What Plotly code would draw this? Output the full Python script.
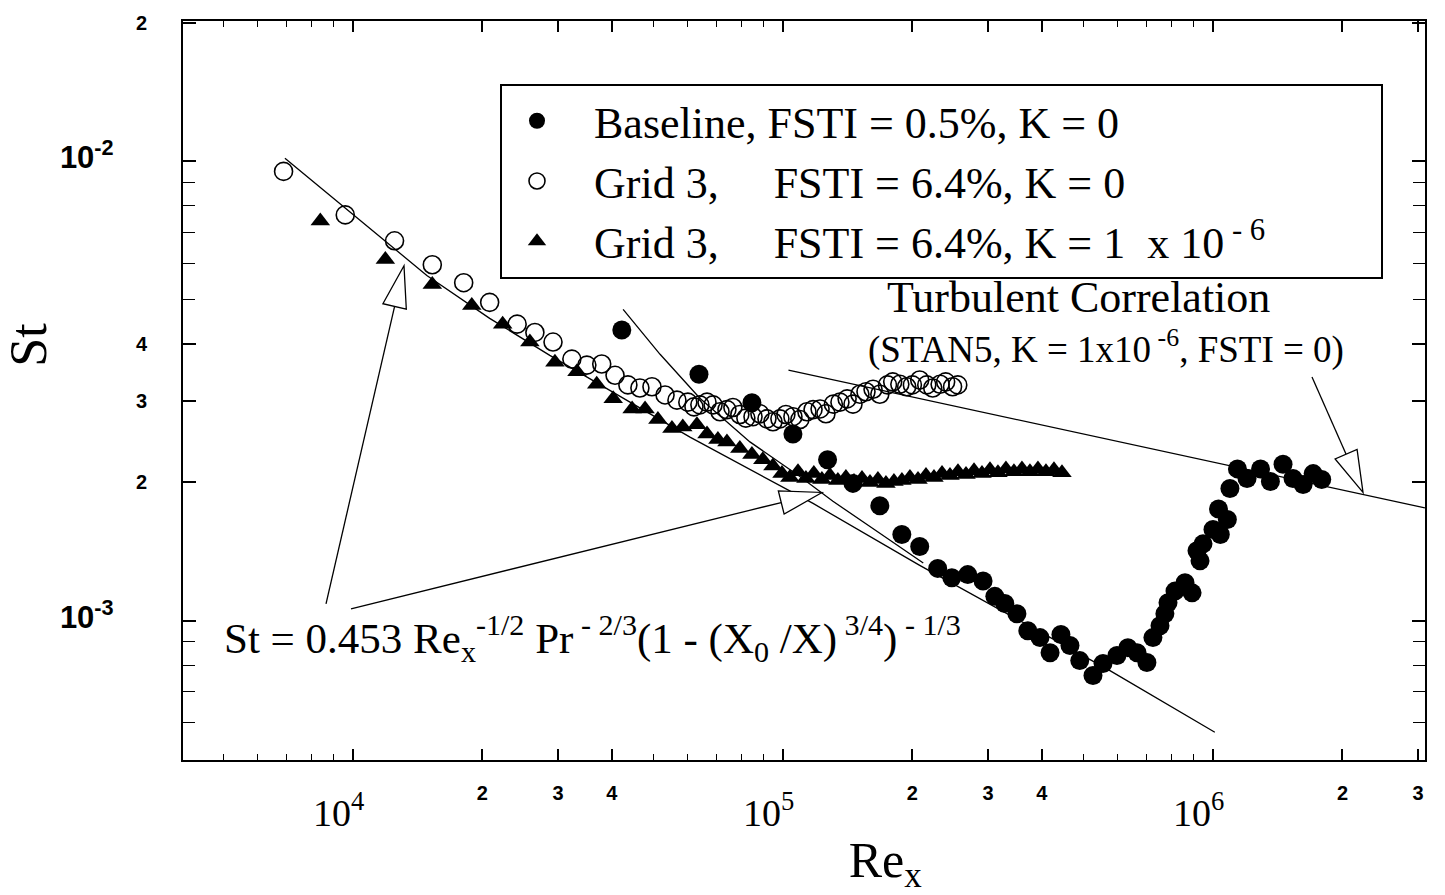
import math
import plotly.graph_objects as go

# ---------------- data ----------------
# Baseline, FSTI = 0.5%, K = 0  (filled circles)
base_re = [4.22e4, 6.38e4, 8.47e4, 1.055e5, 1.27e5, 1.455e5, 1.68e5, 1.89e5, 2.08e5, 2.29e5,
           2.47e5, 2.69e5, 2.92e5, 3.11e5, 3.28e5, 3.50e5, 3.71e5, 3.96e5, 4.18e5, 4.43e5,
           4.65e5, 4.90e5, 5.26e5, 5.55e5, 5.98e5, 6.34e5, 6.66e5, 7.02e5, 7.25e5, 7.53e5,
           7.73e5, 7.86e5, 8.16e5, 8.61e5, 8.94e5, 9.18e5, 9.33e5, 9.48e5, 1.0e6, 1.03e6,
           1.04e6, 1.08e6, 1.095e6, 1.14e6, 1.2e6, 1.29e6, 1.36e6, 1.455e6, 1.535e6, 1.62e6,
           1.71e6, 1.79e6]
base_st = [4.29e-3, 3.44e-3, 2.98e-3, 2.55e-3, 2.24e-3, 1.99e-3, 1.78e-3, 1.54e-3, 1.45e-3, 1.30e-3,
           1.24e-3, 1.26e-3, 1.22e-3, 1.13e-3, 1.09e-3, 1.036e-3, 9.51e-4, 9.19e-4, 8.52e-4, 9.33e-4,
           8.83e-4, 8.19e-4, 7.60e-4, 8.07e-4, 8.40e-4, 8.74e-4, 8.52e-4, 8.11e-4, 9.19e-4, 9.75e-4,
           1.036e-3, 1.094e-3, 1.16e-3, 1.21e-3, 1.15e-3, 1.42e-3, 1.35e-3, 1.47e-3, 1.58e-3, 1.75e-3,
           1.54e-3, 1.66e-3, 1.94e-3, 2.14e-3, 2.04e-3, 2.14e-3, 2.01e-3, 2.19e-3, 2.04e-3, 1.98e-3,
           2.09e-3, 2.03e-3]

# Grid 3, FSTI = 6.4%, K = 0  (open circles)
g0_re = [6.9e3, 9.6e3, 1.25e4, 1.53e4, 1.81e4, 2.08e4, 2.41e4, 2.65e4, 2.92e4, 3.23e4,
         3.50e4, 3.79e4, 4.07e4, 4.36e4, 4.65e4, 4.96e4, 5.32e4, 5.67e4, 6.01e4, 6.21e4,
         6.41e4, 6.66e4, 6.88e4, 7.14e4, 7.41e4, 7.65e4, 7.94e4, 8.20e4, 8.52e4, 8.84e4,
         9.18e4, 9.48e4, 9.84e4, 1.016e5, 1.055e5, 1.095e5, 1.137e5, 1.175e5, 1.22e5, 1.259e5,
         1.31e5, 1.357e5, 1.41e5, 1.455e5, 1.51e5, 1.56e5, 1.62e5, 1.68e5, 1.75e5, 1.80e5,
         1.87e5, 1.94e5, 2.0e5, 2.08e5, 2.16e5, 2.23e5, 2.32e5, 2.39e5, 2.48e5, 2.55e5]
g0_st = [9.5e-3, 7.64e-3, 6.71e-3, 5.95e-3, 5.44e-3, 4.93e-3, 4.42e-3, 4.24e-3, 4.04e-3, 3.71e-3,
         3.60e-3, 3.62e-3, 3.42e-3, 3.26e-3, 3.21e-3, 3.23e-3, 3.10e-3, 3.02e-3, 2.99e-3, 2.92e-3,
         2.95e-3, 2.99e-3, 2.95e-3, 2.85e-3, 2.88e-3, 2.91e-3, 2.81e-3, 2.76e-3, 2.78e-3, 2.82e-3,
         2.75e-3, 2.71e-3, 2.75e-3, 2.81e-3, 2.78e-3, 2.74e-3, 2.85e-3, 2.88e-3, 2.89e-3, 2.82e-3,
         2.96e-3, 2.99e-3, 3.04e-3, 2.96e-3, 3.11e-3, 3.15e-3, 3.19e-3, 3.11e-3, 3.26e-3, 3.31e-3,
         3.27e-3, 3.23e-3, 3.26e-3, 3.34e-3, 3.26e-3, 3.21e-3, 3.27e-3, 3.31e-3, 3.23e-3, 3.26e-3]

# Grid 3, FSTI = 6.4%, K = 1e-6  (filled triangles)
g6_re = [8.4e3, 1.19e4, 1.53e4, 1.89e4, 2.23e4, 2.58e4, 2.95e4, 3.32e4, 3.69e4, 4.03e4,
         4.46e4, 4.78e4, 5.12e4, 5.52e4, 5.85e4, 6.31e4, 6.66e4, 7.06e4, 7.41e4, 7.94e4,
         8.47e4, 8.98e4, 9.48e4, 9.95e4, 1.038e5, 1.084e5, 1.131e5, 1.18e5, 1.232e5, 1.286e5,
         1.342e5, 1.401e5, 1.463e5, 1.527e5, 1.594e5, 1.663e5, 1.736e5, 1.812e5, 1.891e5, 1.974e5,
         2.061e5, 2.151e5, 2.245e5, 2.344e5, 2.446e5, 2.553e5, 2.665e5, 2.782e5, 2.903e5, 3.03e5,
         3.162e5, 3.30e5, 3.445e5, 3.596e5, 3.753e5, 3.917e5, 4.089e5, 4.268e5, 4.455e5]
g6_st = [7.41e-3, 6.11e-3, 5.39e-3, 4.85e-3, 4.42e-3, 4.04e-3, 3.65e-3, 3.48e-3, 3.27e-3, 3.04e-3,
         2.89e-3, 2.89e-3, 2.74e-3, 2.62e-3, 2.64e-3, 2.67e-3, 2.55e-3, 2.48e-3, 2.45e-3, 2.37e-3,
         2.30e-3, 2.24e-3, 2.17e-3, 2.09e-3, 2.05e-3, 2.11e-3, 2.04e-3, 2.09e-3, 2.03e-3, 2.07e-3,
         2.02e-3, 2.05e-3, 2.01e-3, 2.04e-3, 2.00e-3, 2.03e-3, 1.99e-3, 2.01e-3, 2.02e-3, 2.05e-3,
         2.03e-3, 2.07e-3, 2.05e-3, 2.09e-3, 2.07e-3, 2.11e-3, 2.08e-3, 2.12e-3, 2.09e-3, 2.13e-3,
         2.10e-3, 2.14e-3, 2.11e-3, 2.14e-3, 2.11e-3, 2.14e-3, 2.11e-3, 2.13e-3, 2.10e-3]

# Laminar correlation lines
lam_grid_re = [6.95e3, 1.016e4, 1.486e4, 2.08e4, 2.87e4, 6.08e4, 1.175e5, 2.08e5, 5.76e5, 1.01e6]
lam_grid_st = [1.015e-2, 7.56e-3, 5.64e-3, 4.55e-3, 3.78e-3, 2.51e-3, 1.80e-3, 1.32e-3, 7.79e-4, 5.72e-4]
lam_base_re = [4.25e4, 5.18e4, 6.41e4, 8.38e4, 1.095e5, 1.307e5, 1.68e5, 2.12e5]
lam_base_st = [4.76e-3, 3.80e-3, 3.05e-3, 2.45e-3, 2.06e-3, 1.82e-3, 1.55e-3, 1.335e-3]
# Turbulent correlation line
turb_re = [1.03e5, 3.11e6]
turb_st = [3.51e-3, 1.76e-3]

# Tick values / labels
x_tick_vals = [1e4, 2e4, 3e4, 4e4, 1e5, 2e5, 3e5, 4e5, 1e6, 2e6, 3e6]
x_tick_digits = ["4", "2", "3", "4", "5", "2", "3", "4", "6", "2", "3"]
x_minor_vals = [5e3, 6e3, 7e3, 8e3, 9e3, 5e4, 6e4, 7e4, 8e4, 9e4, 5e5, 6e5, 7e5, 8e5, 9e5]
y_tick_vals = [1e-3, 2e-3, 3e-3, 4e-3, 1e-2, 2e-2]
y_tick_digits = ["-3", "2", "3", "4", "-2", "2"]
y_minor_vals = [6e-4, 7e-4, 8e-4, 9e-4, 5e-3, 6e-3, 7e-3, 8e-3, 9e-3]

# ---------------- styling ----------------
NB = "\u00a0"
SERIF = "Liberation Serif"
SANS = "Liberation Sans"

x_tick_text = []
for v, d in zip(x_tick_vals, x_tick_digits):
    if abs(math.log10(v) - round(math.log10(v))) < 1e-9:
        x_tick_text.append('<br><span style="font-family:Liberation Serif;font-weight:normal;font-size:38px">10<sup>'
                           + d + '</sup>' + NB * 3 + '</span>')
    else:
        x_tick_text.append(d)

y_tick_text = []
for v, d in zip(y_tick_vals, y_tick_digits):
    if d.startswith("-"):
        y_tick_text.append('<span style="font-size:31px">10<sup>' + d + '</sup></span>' + NB * 6)
    else:
        y_tick_text.append(d)

fig = go.Figure()
line_style = dict(color="black", width=1.3)
fig.add_trace(go.Scatter(x=lam_grid_re, y=lam_grid_st, mode="lines", line=line_style,
                         showlegend=False, hoverinfo="skip"))
fig.add_trace(go.Scatter(x=lam_base_re, y=lam_base_st, mode="lines", line=line_style,
                         showlegend=False, hoverinfo="skip"))
fig.add_trace(go.Scatter(x=turb_re, y=turb_st, mode="lines", line=line_style,
                         showlegend=False, hoverinfo="skip"))

fig.add_trace(go.Scatter(
    x=g6_re, y=g6_st, mode="markers", legendrank=3,
    name=NB * 2 + "Grid 3," + NB * 5 + "FSTI = 6.4%, K = 1 " + NB + "x 10<sup> - 6</sup>" + NB * 10,
    marker=dict(symbol="triangle-up", size=17, color="black")))
fig.add_trace(go.Scatter(
    x=g0_re, y=g0_st, mode="markers", legendrank=2,
    name=NB * 2 + "Grid 3," + NB * 5 + "FSTI = 6.4%, K = 0",
    marker=dict(symbol="circle-open", size=18, color="black", line=dict(width=1.6))))
fig.add_trace(go.Scatter(
    x=base_re, y=base_st, mode="markers", legendrank=1,
    name=NB * 2 + "Baseline, FSTI = 0.5%, K = 0",
    marker=dict(symbol="circle", size=19, color="black")))

# plot area in pixels (for placing decorations in paper coordinates)
L, R, T, B = 183, 1425, 17, 760
PW, PH = R - L, B - T


def paper(px, py):
    return (px - L) / PW, (B - py) / PH


shapes = []
arrows = [((326, 603), (404, 263)), ((351, 608), (822, 491)), ((1312, 375), (1363, 491))]
for tail, tip in arrows:
    dx, dy = tip[0] - tail[0], tip[1] - tail[1]
    n = math.hypot(dx, dy)
    ux, uy = dx / n, dy / n
    hl, hw = 42, 12
    bx, by = tip[0] - hl * ux, tip[1] - hl * uy
    c1 = (bx - hw * uy, by + hw * ux)
    c2 = (bx + hw * uy, by - hw * ux)
    x0, y0 = paper(*tail)
    x1, y1 = paper(bx, by)
    shapes.append(dict(type="line", xref="paper", yref="paper", x0=x0, y0=y0, x1=x1, y1=y1,
                       line=dict(color="black", width=1.3)))
    pts = [paper(*tip), paper(*c1), paper(*c2)]
    path = "M {} {} L {} {} L {} {} Z".format(pts[0][0], pts[0][1], pts[1][0], pts[1][1], pts[2][0], pts[2][1])
    shapes.append(dict(type="path", xref="paper", yref="paper", path=path,
                       fillcolor="white", line=dict(color="black", width=1.3)))

ax_common = dict(showline=True, linecolor="black", linewidth=2, mirror="ticks",
                 ticks="inside", tickcolor="black", showgrid=False, zeroline=False,
                 type="log", tickmode="array")

fig.update_layout(
    width=1445, height=895,
    margin=dict(l=L, r=1445 - R, t=T, b=895 - B),
    paper_bgcolor="white", plot_bgcolor="white",
    font=dict(family=SERIF, color="black"),
    xaxis=dict(**ax_common, range=[3.605, 6.493],
               tickvals=x_tick_vals, ticktext=x_tick_text, ticklen=11, tickwidth=1.5,
               tickfont=dict(family=SANS, size=20, color="black", weight="bold"),
               ticklabelstandoff=14,
               minor=dict(ticks="inside", ticklen=6, tickwidth=1.2, tickcolor="black",
                          tickmode="array", tickvals=x_minor_vals, showgrid=False),
               title=dict(text="<span>" + NB * 13 + "</span>Re<sub>x</sub>", standoff=0,
                          font=dict(family=SERIF, size=50, color="black"))),
    yaxis=dict(**ax_common, range=[-3.303, -1.695],
               tickvals=y_tick_vals, ticktext=y_tick_text, ticklen=13, tickwidth=1.5,
               tickfont=dict(family=SANS, size=20, color="black", weight="bold"),
               ticklabelstandoff=30,
               minor=dict(ticks="inside", ticklen=12, tickwidth=1.2, tickcolor="black",
                          tickmode="array", tickvals=y_minor_vals, showgrid=False),
               title=dict(text="<span>" + NB * 7 + "</span>St", standoff=0,
                          font=dict(family=SERIF, size=52, color="black"))),
    legend=dict(x=paper(500, 80)[0], y=paper(500, 80)[1], xanchor="left", yanchor="top",
                bgcolor="white", bordercolor="black", borderwidth=2,
                font=dict(family=SERIF, size=44, color="black"),
                itemwidth=60, traceorder="normal"),
    shapes=shapes,
    annotations=[
        dict(text="Turbulent Correlation", xref="paper", yref="paper",
             x=paper(1078, 295)[0], y=paper(1078, 295)[1], showarrow=False,
             xanchor="center", yanchor="middle", font=dict(family=SERIF, size=44, color="black")),
        dict(text="(STAN5, K = 1x10<sup> -6</sup>, FSTI = 0)", xref="paper", yref="paper",
             x=paper(1106, 345)[0], y=paper(1106, 345)[1], showarrow=False,
             xanchor="center", yanchor="middle", font=dict(family=SERIF, size=37, color="black")),
        dict(text="St = 0.453 Re<sub>x</sub><sup>-1/2</sup> Pr<sup> - 2/3</sup>(1 - (X<sub>0</sub> /X)<sup> 3/4</sup>)<sup> - 1/3</sup>",
             xref="paper", yref="paper",
             x=paper(222, 638)[0], y=paper(222, 638)[1], showarrow=False,
             xanchor="left", yanchor="middle", font=dict(family=SERIF, size=43, color="black")),
    ],
)

fig.write_html("out.html")
